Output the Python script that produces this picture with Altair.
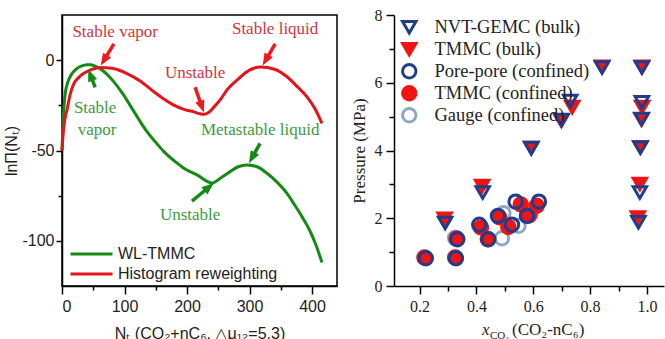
import math
import altair as alt
import pandas as pd

# ---------------- left panel data ----------------
curve_names = ["WL-TMMC", "Histogram reweighting"]
wl_N = [0, 2, 5, 9, 13, 18, 24, 32, 40, 46, 56, 66, 83, 96, 109, 122, 136, 150, 163, 180,
        195, 216, 240, 255, 269, 282, 296, 312, 328, 344, 360, 372, 384, 396, 406, 416]
wl_val = [-50, -32, -19, -12.5, -9.2, -6.5, -4.6, -3.2, -2.6, -2.5, -3.8, -6, -12, -18, -25,
          -32.3, -39.6, -45.5, -50.6, -55.8, -59.8, -63.5, -68, -65, -61.7, -59, -58, -59,
          -62.6, -67.5, -73.7, -80, -86.6, -94, -102, -112]
hr_N = [0, 2, 5, 8, 13, 19, 27, 35, 45, 61, 80, 104, 125, 147, 163, 179, 195, 211, 220, 227,
        235, 243, 253, 265, 280, 300, 318, 340, 360, 376, 392, 405, 416]
hr_val = [-50, -40, -32, -27.5, -19, -13, -9.5, -7.3, -5.5, -4, -4.5, -7.4, -11.5, -17.5, -21.5,
          -24.9, -27.2, -28.6, -29.6, -30, -28.8, -26, -22, -16, -11, -5.5, -3.8, -5, -9.2,
          -14.5, -20.3, -27, -35]

note_text = ["Stable vapor", "Unstable", "Stable liquid", "Stable", "vapor",
             "Metastable liquid", "Unstable"]
note_x = [85, 213, 341, 53, 56, 317, 205]
note_y = [15.5, -7, 17, -26.5, -38.5, -38.5, -85.5]
note_kind = ["hr", "hr", "hr", "wl", "wl", "wl", "wl"]

arrow_x1 = [83, 213, 341, 53, 317, 208]
arrow_y1 = [9, -15, 9, -15, -46, -78]
arrow_x2 = [62, 227, 321, 42, 299, 243]
arrow_y2 = [-3, -29, -3, -5, -57, -68]
arrow_kind = ["hr", "hr", "hr", "wl", "wl", "wl"]

# ---------------- right panel data ----------------
series_names = ["NVT-GEMC (bulk)", "TMMC (bulk)", "Pore-pore (confined)",
                "TMMC (confined)", "Gauge (confined)"]
gemc_x = [0.290, 0.422, 0.593, 0.699, 0.730, 0.842, 0.982, 0.982, 0.981, 0.977, 0.975, 0.970]
gemc_p = [1.86, 2.76, 4.07, 4.90, 5.46, 6.45, 6.45, 5.42, 4.93, 4.09, 2.76, 1.88]
tmmcb_x = [0.288, 0.420, 0.593, 0.699, 0.737, 0.842, 0.983, 0.983, 0.981, 0.977, 0.975, 0.968]
tmmcb_p = [1.98, 2.95, 4.07, 4.88, 5.28, 6.47, 6.47, 5.28, 4.91, 4.09, 3.01, 2.02]
pore_x = [0.222, 0.328, 0.333, 0.410, 0.442, 0.476, 0.525, 0.538, 0.578, 0.620]
pore_p = [0.82, 0.82, 1.38, 1.81, 1.38, 2.07, 1.81, 2.49, 2.07, 2.49]
tmmcc_x = [0.217, 0.325, 0.330, 0.416, 0.440, 0.480, 0.512, 0.556, 0.585, 0.612]
tmmcc_p = [0.84, 0.84, 1.40, 1.73, 1.38, 2.03, 1.74, 2.41, 2.08, 2.37]
gauge_x = [0.325, 0.495, 0.490, 0.548, 0.592]
gauge_p = [1.42, 2.15, 1.41, 1.78, 2.17]

# ---------------- styling ----------------
GREEN, RED = "#158a15", "#e3141b"
ARROW = {"hr": "#f01818", "wl": "#138a13"}
NOTE = {"hr": "#d0343c", "wl": "#3d9b3d"}
BLUE, PRED, GAUGE = "#1f3d8c", "#f01414", "#8fa8bf"
SANS, SERIF = "Liberation Sans", "Liberation Serif"

W_L, H_L = 275, 271
XD_L, YD_L = [0, 440], [-125, 25]
W_R, H_R = 270, 271
XD_R, YD_R = [0.11, 1.06], [0, 8]

curve_df = pd.concat([
    pd.DataFrame({"N": wl_N, "v": wl_val, "series": curve_names[0]}),
    pd.DataFrame({"N": hr_N, "v": hr_val, "series": curve_names[1]}),
], ignore_index=True)

note_df = pd.DataFrame({"x": note_x, "y": note_y, "t": note_text,
                        "c": [NOTE[k] for k in note_kind]})

px_x = W_L / (XD_L[1] - XD_L[0])
px_y = H_L / (YD_L[1] - YD_L[0])
HEAD = 11.0
rows = []
for x1, y1, x2, y2, k in zip(arrow_x1, arrow_y1, arrow_x2, arrow_y2, arrow_kind):
    sdx = (x2 - x1) * px_x
    sdy = -(y2 - y1) * px_y
    length = math.hypot(sdx, sdy)
    ang = math.degrees(math.atan2(sdx, -sdy)) % 360
    f = max(0.0, 1 - HEAD / length)
    rows.append({"x1": x1, "y1": y1, "x2": x2, "y2": y2,
                 "xs": x1 + (x2 - x1) * f, "ys": y1 + (y2 - y1) * f,
                 "ang": ang, "c": ARROW[k]})
arrow_df = pd.DataFrame(rows)

sx_L = alt.Scale(domain=XD_L, nice=False, zero=False)
sy_L = alt.Scale(domain=YD_L, nice=False, zero=False)
XT_L = "Nₜ (CO₂+nC₆, △μ₁₂=5.3)"
YT_L = "lnΠ(Nₜ)"
lab_expr = "datum.value < 0 ? '-' + abs(datum.value) : '' + datum.value"
ax_lx = alt.Axis(values=[0, 100, 200, 300, 400], labelExpr=lab_expr, labelFont=SANS,
                 labelFontSize=16, labelColor="#222", tickSize=8, tickWidth=1.5,
                 tickColor="black", domainColor="black", domainWidth=1.5, labelPadding=4,
                 titleFont=SANS, titleFontSize=16, titleFontWeight="normal",
                 titleColor="#222", titlePadding=11, grid=False, orient="bottom")
ax_ly = alt.Axis(values=[0, -50, -100], labelExpr=lab_expr, labelFont=SANS,
                 labelFontSize=16, labelColor="#222", tickSize=6, tickWidth=1.5,
                 tickColor="black", domainColor="black", domainWidth=1.5, labelPadding=2,
                 titleFont=SANS, titleFontSize=16, titleFontWeight="normal",
                 titleColor="#222", titlePadding=2, grid=False, orient="left")


def xl(f):
    return alt.X(f, type="quantitative", scale=sx_L, axis=ax_lx, title=XT_L)


def yl(f):
    return alt.Y(f, type="quantitative", scale=sy_L, axis=ax_ly, title=YT_L)


lines = alt.Chart(curve_df).mark_line(strokeWidth=3, interpolate="monotone").encode(
    x=xl("N"), y=yl("v"),
    color=alt.Color("series:N", scale=alt.Scale(domain=curve_names, range=[GREEN, RED]),
                    legend=alt.Legend(orient="none", legendX=17.5, legendY=227, title="",
                                      titlePadding=0, symbolType="M-2,0L2,0",
                                      symbolSize=441, symbolStrokeWidth=3,
                                      labelFont=SANS, labelFontSize=16, labelColor="#222",
                                      rowPadding=-0.8, labelOffset=14.5)),
    detail="series:N",
)
shafts = alt.Chart(arrow_df).mark_rule(strokeWidth=3.5).encode(
    x=xl("x1"), y=yl("y1"), x2="xs:Q", y2="ys:Q",
    color=alt.Color("c:N", scale=None),
)
heads = alt.Chart(arrow_df).mark_point(
    shape="M0,0L0.6,1.55L-0.6,1.55Z", size=250, filled=True, opacity=1, strokeWidth=0
).encode(x=xl("x2"), y=yl("y2"), angle=alt.Angle("ang:Q", scale=None),
         color=alt.Color("c:N", scale=None))
notes = alt.Chart(note_df).mark_text(font=SERIF, fontSize=17).encode(
    x=xl("x"), y=yl("y"), text="t:N", color=alt.Color("c:N", scale=None))

main_left = alt.layer(lines, shafts, heads, notes)
minor_left = alt.Chart(curve_df).mark_point(opacity=0).encode(
    x=alt.X("N:Q", scale=sx_L, title="",
            axis=alt.Axis(values=[50, 150, 250, 350], labels=False, tickSize=4,
                          tickWidth=1.5, tickColor="black", domain=False, grid=False,
                          orient="bottom", titlePadding=0)),
    y=alt.Y("v:Q", scale=sy_L, title="",
            axis=alt.Axis(values=[-75, -25], labels=False, tickSize=4, tickWidth=1.5,
                          tickColor="black", domain=False, grid=False, orient="left",
                          titlePadding=0)),
)
left = alt.layer(main_left, minor_left).resolve_axis(
    x="independent", y="independent"
).properties(width=W_L, height=H_L,
             view=alt.ViewBackground(stroke="black", strokeWidth=1.5))

# ---------------- right panel ----------------
sc_parts = [
    (series_names[0], gemc_x, gemc_p, 1),
    (series_names[1], tmmcb_x, tmmcb_p, 0),
    (series_names[2], pore_x, pore_p, 4),
    (series_names[3], tmmcc_x, tmmcc_p, 3),
    (series_names[4], gauge_x, gauge_p, 2),
]
sc_df = pd.concat([pd.DataFrame({"series": n, "x": xs, "p": ps, "rank": r})
                   for n, xs, ps, r in sc_parts], ignore_index=True)
one_row = pd.DataFrame({"k": [0]})

sx_R = alt.Scale(domain=XD_R, nice=False, zero=False)
sy_R = alt.Scale(domain=YD_R, nice=False, zero=False)
ax_rx = alt.Axis(values=[0.2, 0.4, 0.6, 0.8, 1.0], format=".1f", labelFont=SERIF,
                 labelFontSize=16, labelColor="#222", tickSize=8, tickWidth=1.5,
                 tickColor="black", domainColor="black", domainWidth=1.5, labelPadding=4,
                 grid=False, orient="bottom", titlePadding=0)
ax_ry = alt.Axis(values=[0, 2, 4, 6, 8], format="d", labelFont=SERIF, labelFontSize=16,
                 labelColor="#222", tickSize=8, tickWidth=1.5, tickColor="black",
                 domainColor="black", domainWidth=1.5, labelPadding=4, titleFont=SERIF,
                 titleFontSize=17, titleFontWeight="normal", titleColor="#222",
                 titlePadding=6, grid=False, orient="left")

leg_R = alt.Legend(orient="none", legendX=6, legendY=3, title="", titlePadding=0,
                   labelFont=SERIF, labelFontSize=18.5, labelColor="#222", rowPadding=-9.9,
                   symbolStrokeWidth=3, symbolSize=180, labelOffset=16)
scatter = alt.Chart(sc_df).mark_point(strokeWidth=3, opacity=1, size=180).encode(
    x=alt.X("x:Q", scale=sx_R, axis=ax_rx, title=""),
    y=alt.Y("p:Q", scale=sy_R, axis=ax_ry, title="Pressure (MPa)"),
    shape=alt.Shape("series:N", scale=alt.Scale(
        domain=series_names,
        range=["triangle-down", "triangle-down", "circle", "circle", "circle"]),
        legend=leg_R),
    fill=alt.Fill("series:N", scale=alt.Scale(
        domain=series_names,
        range=["transparent", PRED, "transparent", PRED, "transparent"]), legend=leg_R),
    stroke=alt.Stroke("series:N", scale=alt.Scale(
        domain=series_names, range=[BLUE, PRED, BLUE, PRED, GAUGE]), legend=leg_R),
    order=alt.Order("rank:Q"),
)
t1 = alt.Chart(one_row).mark_text(text="x", font=SERIF, fontSize=17, fontStyle="italic",
                                  align="left", baseline="alphabetic", color="#222").encode(
    x=alt.value(88), y=alt.value(320))
t2 = alt.Chart(one_row).mark_text(text="CO₂", font=SERIF, fontSize=11, align="left",
                                  baseline="alphabetic", color="#222").encode(
    x=alt.value(96), y=alt.value(324))
t3 = alt.Chart(one_row).mark_text(text="(CO₂-nC₆)", font=SERIF, fontSize=17, align="left",
                                  baseline="alphabetic", color="#222").encode(
    x=alt.value(118), y=alt.value(320))
main_right = alt.layer(scatter, t1, t2, t3)
minor_right = alt.Chart(sc_df).mark_point(opacity=0).encode(
    x=alt.X("x:Q", scale=sx_R, title="",
            axis=alt.Axis(values=[0.3, 0.5, 0.7, 0.9], labels=False, tickSize=5,
                          tickWidth=1.5, tickColor="black", domain=False, grid=False,
                          orient="bottom", titlePadding=0)),
    y=alt.Y("p:Q", scale=sy_R, title="",
            axis=alt.Axis(values=[1, 3, 5, 7], labels=False, tickSize=5, tickWidth=1.5,
                          tickColor="black", domain=False, grid=False, orient="left",
                          titlePadding=0)),
)
right = alt.layer(main_right, minor_right).resolve_axis(
    x="independent", y="independent"
).properties(width=W_R, height=H_R)

chart = alt.hconcat(left, right, spacing=57, bounds="flush").resolve_legend(
    color="independent", fill="independent", shape="independent", stroke="independent"
).properties(
    padding={"left": 3, "top": 6, "right": 0, "bottom": 0},
    background="white",
).configure_view(stroke="transparent")

chart.save("out.html", embed_options={"renderer": "svg", "actions": False})
